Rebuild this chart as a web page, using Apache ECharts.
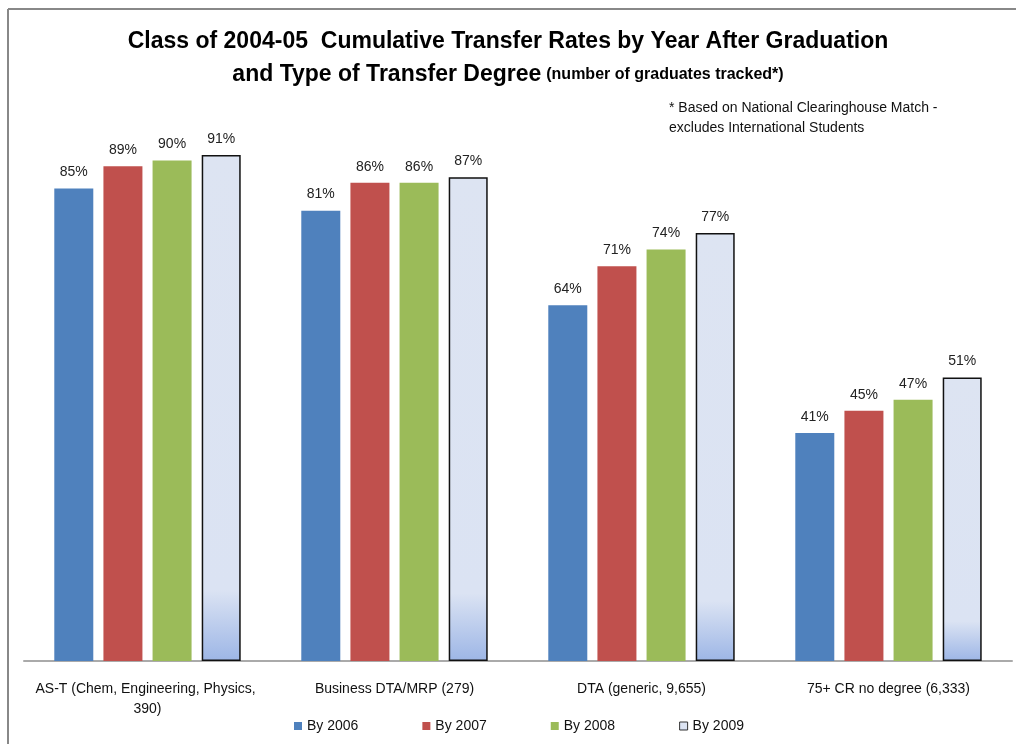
<!DOCTYPE html>
<html>
<head>
<meta charset="utf-8">
<script src="https://cdn.jsdelivr.net/npm/echarts@6/dist/echarts.min.js"></script>
<style>
  html, body { margin: 0; padding: 0; background: #fff; }
  #chart { width: 1016px; height: 744px; }
</style>
</head>
<body>
<div id="chart"></div>
<script>
  // 数据
  var categories = ['AS-T (Chem, Engineering, Physics, 390)', 'Business DTA/MRP (279)', 'DTA (generic, 9,655)', '75+ CR no degree (6,333)'];
  var seriesNames = ['By 2006', 'By 2007', 'By 2008', 'By 2009'];
  var by2006 = [85, 81, 64, 41];
  var by2007 = [89, 86, 71, 45];
  var by2008 = [90, 86, 74, 47];
  var by2009 = [91, 87, 77, 51];

  var font = "'Liberation Sans Narrow', 'Liberation Sans', sans-serif";

  var chart = echarts.init(document.getElementById('chart'));

  function barSeries(name, data, style) {
    return {
      name: name,
      type: 'bar',
      data: data,
      barWidth: 39,
      barGap: '26%',
      itemStyle: style,
      label: {
        show: true,
        position: 'top',
        distance: 9,
        formatter: '{c}%',
        color: '#222',
        fontSize: 14,
        fontFamily: font
      }
    };
  }

  var option = {
    animation: false,
    textStyle: { fontFamily: font },
    // 标题分两行
    title: [
      {
        left: 'center',
        top: 25,
        text: 'Class of 2004-05  Cumulative Transfer Rates by Year After Graduation',
        textStyle: { fontSize: 23, fontWeight: 'bold', color: '#000', fontFamily: font }
      },
      {
        left: 'center',
        top: 58,
        text: '{a|and Type of Transfer Degree} {b|(number of graduates tracked*)}',
        textStyle: {
          rich: {
            a: { fontSize: 23, fontWeight: 'bold', color: '#000', fontFamily: font },
            b: { fontSize: 16, fontWeight: 'bold', color: '#000', fontFamily: font }
          }
        }
      }
    ],
    graphic: [
      { type: 'line', shape: { x1: 8, y1: 9, x2: 1016, y2: 9 }, style: { stroke: '#888', lineWidth: 2 } },
      { type: 'line', shape: { x1: 8, y1: 9, x2: 8, y2: 744 }, style: { stroke: '#888', lineWidth: 2 } },
      {
        type: 'text', left: 669, top: 98,
        style: {
          text: '* Based on National Clearinghouse Match -\nexcludes International Students',
          fontSize: 14, lineHeight: 20, fill: '#111', fontFamily: font
        }
      }
    ],
    legend: {
      bottom: 6,
      left: 289,
      itemWidth: 8,
      itemHeight: 8,
      itemGap: 64,
      icon: 'rect',
      textStyle: { fontSize: 14, color: '#111', fontFamily: font },
      data: [
        seriesNames[0], seriesNames[1], seriesNames[2],
        { name: seriesNames[3], itemStyle: { borderWidth: 1, borderColor: '#333' } }
      ]
    },
    grid: { left: 24, right: 4, top: 105, bottom: 83 },
    xAxis: {
      type: 'category',
      data: categories,
      axisTick: { show: false },
      axisLine: { lineStyle: { color: '#aaa', width: 2 } },
      axisLabel: {
        interval: 0,
        margin: 18,
        width: 225,
        overflow: 'break',
        fontSize: 14,
        lineHeight: 20,
        color: '#111',
        fontFamily: font
      }
    },
    yAxis: {
      type: 'value',
      min: 0,
      max: 100,
      show: false,
      splitLine: { show: false }
    },
    series: [
      barSeries(seriesNames[0], by2006, { color: '#4F81BD' }),
      barSeries(seriesNames[1], by2007, { color: '#C0504D' }),
      barSeries(seriesNames[2], by2008, { color: '#9BBB59' }),
      barSeries(seriesNames[3], by2009, {
        color: new echarts.graphic.LinearGradient(0, 0, 0, 1, [
          { offset: 0, color: '#DDE4F2' },
          { offset: 0.86, color: '#DBE3F3' },
          { offset: 1, color: '#9DB6E6' }
        ]),
        borderColor: '#111',
        borderWidth: 1.5
      })
    ]
  };

  chart.setOption(option);
</script>
</body>
</html>
